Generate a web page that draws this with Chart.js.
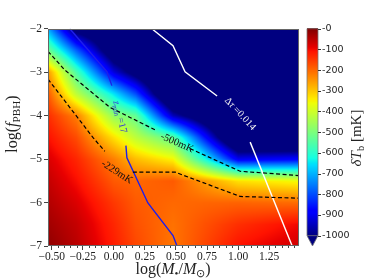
<!DOCTYPE html>
<html><head><meta charset="utf-8">
<script src="https://cdn.jsdelivr.net/npm/chart.js@4/dist/chart.umd.min.js"></script>
<style>html,body{margin:0;padding:0;background:#fff;}#wrap{width:374px;height:280px;}</style>
</head><body><div id="wrap"><canvas id="c" width="374" height="280"></canvas></div>
<script>
// ---- data ----
const logM = [-0.523, -0.301, 0.0, 0.176, 0.477, 1.0, 1.477];
const logF = [-2, -2.5, -3, -3.5, -4, -4.5, -5, -5.5, -6, -6.5, -7];
// dTb in mK, rows follow logF, columns follow logM
const dTb = [
 [-720, -1050, -1150, -1200, -1250, -1250, -1250],
 [-520,  -780, -1100, -1150, -1250, -1250, -1250],
 [-260,  -560,  -920, -1050, -1250, -1250, -1250],
 [-190,  -420,  -650,  -800, -1200, -1250, -1250],
 [-140,  -225,  -470,  -530,  -950, -1250, -1250],
 [-110,  -170,  -330,  -420,  -540, -1200, -1200],
 [ -80,  -130,  -225,  -290,  -350,  -900,  -880],
 [ -60,  -105,  -185,  -200,  -185,  -330,  -360],
 [ -45,   -80,  -150,  -185,  -200,  -195,  -205],
 [ -30,   -60,  -130,  -175,  -210,  -140,  -100],
 [ -15,   -50,  -120,  -165,  -215,  -110,   -70]
];
const contour500a = [[-0.53,-2.52],[-0.395,-2.95],[-0.032,-3.81],[0.347,-4.35]];
const contour500b = [[0.613,-4.76],[1.016,-5.28],[1.49,-5.38]];
const contour229a = [[-0.53,-3.16],[-0.169,-4.5],[-0.073,-4.82]];
const contour229b = [[0.153,-5.30],[0.492,-5.30],[1.016,-5.86],[1.49,-5.90]];
const zminLineA = [[-0.355,-2.0],[-0.056,-2.99],[-0.016,-3.31]];
const zminLineB = [[0.097,-4.69],[0.105,-4.97],[0.274,-6.01],[0.476,-6.76],[0.508,-7.0]];
const tauLineA = [[0.306,-2.0],[0.476,-2.39],[0.573,-2.99],[0.831,-3.55]];
const tauLineB = [[1.097,-4.61],[1.435,-7.0]];
const xTicks = [-0.5,-0.25,0,0.25,0.5,0.75,1.0,1.25];
const yTicks = [-7,-6,-5,-4,-3,-2];
const cbTicks = [0,-100,-200,-300,-400,-500,-600,-700,-800,-900,-1000];

// ---- helpers ----
function jet(t){
  let r,g,b;
  r = t<0.35?0:t<0.66?(t-0.35)/0.31:t<0.89?1:1-0.5*(t-0.89)/0.11;
  g = t<0.125?0:t<0.375?(t-0.125)/0.25:t<0.64?1:t<0.91?1-(t-0.64)/0.27:0;
  b = t<0.11?0.5+0.5*t/0.11:t<0.34?1:t<0.65?1-(t-0.34)/0.31:0;
  return [Math.round(r*255),Math.round(g*255),Math.round(b*255)];
}
function valueColor(v){let t=(v+1000)/1000;t=Math.max(0,Math.min(1,t));return jet(t);}
function field(xv,yv){
  let i=0; while(i<logM.length-2 && xv>logM[i+1]) i++;
  let fx=(xv-logM[i])/(logM[i+1]-logM[i]); fx=Math.max(0,Math.min(1,fx));
  let j=0; while(j<logF.length-2 && yv<logF[j+1]) j++;
  let fy=(yv-logF[j])/(logF[j+1]-logF[j]); fy=Math.max(0,Math.min(1,fy));
  const a=dTb[j][i],b=dTb[j][i+1],c=dTb[j+1][i],d=dTb[j+1][i+1];
  return a*(1-fx)*(1-fy)+b*fx*(1-fy)+c*(1-fx)*fy+d*fx*fy;
}
function pts(arr){return arr.map(p=>({x:p[0],y:p[1]}));}
const SERIF='"Liberation Serif", "Times New Roman", serif';
function richWidth(ctx,segs,size){
  let w=0; for(const s of segs){ctx.font=(s.it?'italic ':'')+(s.sub?size*0.7:size)+'px '+SERIF; w+=ctx.measureText(s.t).width;} return w;
}
function drawRich(ctx,segs,size,cx,cy,ang,color){
  ctx.save(); ctx.translate(cx,cy); ctx.rotate(ang*Math.PI/180);
  ctx.fillStyle=color; ctx.textBaseline='middle'; ctx.textAlign='left';
  let x=-richWidth(ctx,segs,size)/2;
  for(const s of segs){ctx.font=(s.it?'italic ':'')+(s.sub?size*0.7:size)+'px '+SERIF;
    ctx.fillText(s.t,x,s.sub?size*0.28:0); x+=ctx.measureText(s.t).width;}
  ctx.restore();
}

const heatmap={id:'heatmap',beforeDatasetsDraw(chart){
  const {ctx,chartArea:a,scales}=chart; const x=scales.x,y=scales.y;
  const w=Math.round(a.right-a.left),h=Math.round(a.bottom-a.top);
  const off=document.createElement('canvas'); off.width=w; off.height=h;
  const oc=off.getContext('2d'); const img=oc.createImageData(w,h);
  for(let py=0;py<h;py++){const yv=y.getValueForPixel(a.top+py+0.5);
    for(let px=0;px<w;px++){const xv=x.getValueForPixel(a.left+px+0.5);
      const c=valueColor(field(xv,yv)); const k=(py*w+px)*4;
      img.data[k]=c[0];img.data[k+1]=c[1];img.data[k+2]=c[2];img.data[k+3]=255;}}
  oc.putImageData(img,0,0); ctx.drawImage(off,a.left,a.top);
}};

const decor={id:'decor',afterDatasetsDraw(chart){
  const {ctx,chartArea:a,scales}=chart; const x=scales.x,y=scales.y;
  const P=(xv,yv)=>[x.getPixelForValue(xv),y.getPixelForValue(yv)];
  let p=P(0.508,-4.63); drawRich(ctx,[{t:'-500mK'}],10.5,p[0],p[1],24,'#111');
  p=P(0.024,-5.30); drawRich(ctx,[{t:'-229mK'}],10.5,p[0],p[1],33,'#111');
  p=P(0.048,-4.03); drawRich(ctx,[{t:'z',it:true},{t:'min',sub:true},{t:' =17'}],10,p[0],p[1],76,'#3535d8');
  p=P(1.016,-3.96); drawRich(ctx,[{t:'Δ'},{t:'τ',it:true},{t:' =0.014'}],10,p[0],p[1],47,'#f4f4f4');
  ctx.save(); ctx.strokeStyle='#666'; ctx.lineWidth=1;
  ctx.strokeRect(Math.round(a.left)+0.5,Math.round(a.top)+0.5,Math.round(a.right-a.left)-1,Math.round(a.bottom-a.top)-1);
  ctx.strokeStyle='#444';
  for(let k=-10;k<=29;k++){const v=k*0.05; if(v<x.min||v>x.max) continue; if(Math.abs(v/0.25-Math.round(v/0.25))<1e-6) continue;
    const px=Math.round(x.getPixelForValue(v))+0.5; ctx.beginPath(); ctx.moveTo(px,a.bottom); ctx.lineTo(px,a.bottom+2); ctx.stroke();}
  ctx.restore();
},afterDraw(chart){
  const {ctx,scales}=chart; const cb=scales.cb;
  const x0=307,x1=318; const yTop=cb.getPixelForValue(0),yBot=cb.getPixelForValue(-1000),yTip=cb.getPixelForValue(-1050);
  for(let py=Math.floor(yTop);py<Math.ceil(yBot);py++){const v=cb.getValueForPixel(py+0.5);const c=valueColor(v);
    ctx.fillStyle='rgb('+c+')'; ctx.fillRect(x0,py,x1-x0,1);}
  const cn=valueColor(-1000); ctx.fillStyle='rgb('+cn+')';
  ctx.beginPath(); ctx.moveTo(x0,yBot); ctx.lineTo(x1,yBot); ctx.lineTo((x0+x1)/2,yTip); ctx.closePath(); ctx.fill();
  ctx.strokeStyle='#777'; ctx.lineWidth=0.8;
  ctx.beginPath(); ctx.moveTo(x0,yTop); ctx.lineTo(x1,yTop); ctx.lineTo(x1,yBot); ctx.lineTo((x0+x1)/2,yTip); ctx.lineTo(x0,yBot); ctx.closePath(); ctx.stroke();
  ctx.beginPath(); ctx.moveTo(x0,yBot); ctx.lineTo(x1,yBot); ctx.stroke();
  ctx.strokeStyle='#333'; ctx.lineWidth=1;
  for(const v of cbTicks){const py=Math.round(cb.getPixelForValue(v))+0.5; ctx.beginPath(); ctx.moveTo(x1,py); ctx.lineTo(x1+3,py); ctx.stroke();}
  drawRich(ctx,[{t:'log('},{t:'M',it:true},{t:'•',sub:true},{t:'/'},{t:'M',it:true},{t:'⊙',sub:true},{t:')'}],16,173,270,0,'#222');
  drawRich(ctx,[{t:'log('},{t:'f',it:true},{t:'PBH',sub:true},{t:')'}],16,13,124,-90,'#222');
  drawRich(ctx,[{t:'δT',it:true},{t:'b',sub:true},{t:' [mK]'}],15,357,138,-90,'#222');
}};

const lineDs=(arr,color,dash,w)=>({data:pts(arr),borderColor:color,borderDash:dash,borderWidth:w,showLine:true,pointRadius:0,fill:false,xAxisID:'x',yAxisID:'y',tension:0});

new Chart(document.getElementById('c'),{
  type:'scatter',
  data:{datasets:[
    lineDs(contour500a,'#000',[4,2.5],1.2), lineDs(contour500b,'#000',[4,2.5],1.2),
    lineDs(contour229a,'#000',[4,2.5],1.2), lineDs(contour229b,'#000',[4,2.5],1.2),
    lineDs(zminLineA,'rgb(30,30,235)',[],1.4), lineDs(zminLineB,'rgb(30,30,235)',[],1.4),
    lineDs(tauLineA,'#fff',[],1.4), lineDs(tauLineB,'#fff',[],1.4)
  ]},
  options:{
    responsive:false, devicePixelRatio:1, animation:false,
    layout:{padding:{top:14,right:0,left:0,bottom:0}},
    plugins:{legend:{display:false},tooltip:{enabled:false}},
    scales:{
      x:{type:'linear',position:'bottom',min:-0.53,max:1.49,
        afterBuildTicks:s=>{s.ticks=xTicks.map(v=>({value:v}));},
        afterFit:s=>{s.height=34;},
        grid:{display:true,drawOnChartArea:false,drawTicks:true,tickLength:4,color:'#444'},
        border:{display:false},
        ticks:{autoSkip:false,maxRotation:0,padding:0,color:'#222',font:{family:SERIF,size:11.5},
          callback:v=>(v<0?'−':'')+Math.abs(v).toFixed(2)}},
      y:{type:'linear',position:'left',min:-7,max:-2,
        afterBuildTicks:s=>{s.ticks=yTicks.map(v=>({value:v}));},
        afterFit:s=>{s.width=48;},
        grid:{display:true,drawOnChartArea:false,drawTicks:true,tickLength:4,color:'#444'},
        border:{display:false},
        ticks:{autoSkip:false,padding:2,color:'#222',font:{family:SERIF,size:11.5},
          callback:v=>(v<0?'−':'')+Math.abs(v)}},
      cb:{type:'linear',position:'right',min:-1050,max:0,
        afterBuildTicks:s=>{s.ticks=cbTicks.map(v=>({value:v}));},
        afterFit:s=>{s.width=75;},
        grid:{display:false,drawTicks:false},border:{display:false},
        ticks:{autoSkip:false,padding:23,color:'#222',font:{family:'"DejaVu Sans", sans-serif',size:9.5},
          callback:v=>'-'+Math.abs(v)}}
    }
  },
  plugins:[heatmap,decor]
});
</script></body></html>
